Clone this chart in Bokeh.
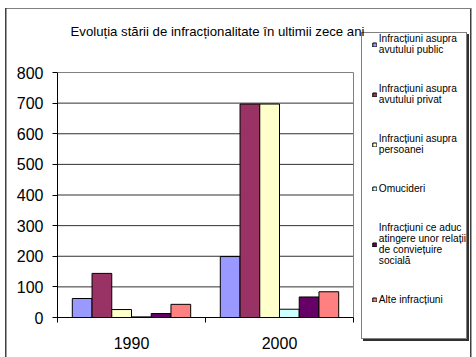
from bokeh.plotting import figure
from bokeh.models import FixedTicker, ColumnDataSource, Range1d, Legend, LegendItem, Label
from bokeh.embed import file_html
from bokeh.resources import INLINE

title_text = "Evoluția stării de infracționalitate în ultimii zece ani"
years = ["1990", "2000"]
series_names = [
    "Infracțiuni asupra\navutului public",
    "Infracțiuni asupra\navutului privat",
    "Infracțiuni asupra\npersoanei",
    "Omucideri",
    "Infracțiuni ce aduc\natingere unor relații\nde conviețuire\nsocială",
    "Alte infracțiuni",
]
public = [62, 199]
private = [144, 697]
persons = [26, 697]
omucideri = [2, 27]
social = [13, 67]
alte = [43, 84]
series_values = [public, private, persons, omucideri, social, alte]
colors = ["#9999FF", "#993366", "#FFFFCC", "#CCFFFF", "#660066", "#FF8080"]
y_ticks = list(range(0, 801, 100))

FONT = "Liberation Sans"
W, H = 476, 357
# canvas pixel layout
LEG_M = 10                              # legend margin from frame top/right
FL, FR, FT, FB = 57, 476, 23, 317       # frame edges
AREA_R, AREA_T = 353, 72                # plot-area right edge / top edge (value 800)
ymax = y_ticks[-1]
n = len(years)

bg = ", ".join([
    # outer chart border
    "linear-gradient(#404040,#404040) 5px 8px / 1.5px 400px no-repeat",
    "linear-gradient(#808080,#808080) 5px 8px / 466px 1px no-repeat",
    "linear-gradient(#404040,#404040) 470px 8px / 1.5px 400px no-repeat",
    # legend box outline + shadow
    "linear-gradient(#808080,#808080) 361px 32px / 1px 307px no-repeat",
    "linear-gradient(#808080,#808080) 466px 32px / 1px 307px no-repeat",
    "linear-gradient(#808080,#808080) 361px 32px / 106px 1px no-repeat",
    "linear-gradient(#808080,#808080) 361px 338px / 106px 1px no-repeat",
    "linear-gradient(#303030,#303030) 467px 34px / 2px 307px no-repeat",
    "linear-gradient(#303030,#303030) 363px 339px / 106px 2px no-repeat",
    "#ffffff",
])

p = figure(width=W, height=H, output_backend="svg", toolbar_location=None,
           x_range=Range1d(0, n * (FR - FL) / (AREA_R - FL)),
           y_range=Range1d(0, ymax * (FB - FT) / (FB - AREA_T)),
           min_border_left=FL, min_border_right=W - FR,
           min_border_top=FT, min_border_bottom=H - FB,
           styles={"background": bg})
p.outline_line_color = None
p.background_fill_alpha = 0
p.border_fill_alpha = 0
p.grid.visible = False

# gridlines and plot-area border (top and right)
grid_y = y_ticks[1:-1]
p.segment(x0=[0] * len(grid_y), y0=grid_y, x1=[n] * len(grid_y), y1=grid_y,
          line_color="#303030", line_width=1)
p.segment(x0=[0, n], y0=[ymax, 0], x1=[n, n], y1=[ymax, ymax],
          line_color="#808080", line_width=1)

bw = 1.0 / (len(series_values) + 1.5)
renderers = []
for i, (vals, col) in enumerate(zip(series_values, colors)):
    xs = [g + 0.5 + (i - (len(series_values) - 1) / 2) * bw for g in range(n)]
    src = ColumnDataSource(dict(x=xs, top=vals))
    r = p.vbar(x="x", top="top", bottom=0, width=bw, source=src,
               fill_color=col, line_color="black", line_width=1)
    renderers.append(r)

# axes
p.yaxis.ticker = FixedTicker(ticks=y_ticks)
p.yaxis.bounds = (0, ymax)
p.yaxis.major_tick_out = 5
p.yaxis.major_tick_in = 0
p.yaxis.minor_tick_line_color = None
p.yaxis.major_label_standoff = 9
p.yaxis.major_label_text_font = FONT
p.yaxis.major_label_text_font_size = "16px"
p.yaxis.major_label_text_color = "black"
p.yaxis.axis_line_color = "black"
p.yaxis.major_tick_line_color = "black"

centers = [g + 0.5 for g in range(n)]
p.xaxis.ticker = FixedTicker(ticks=centers, minor_ticks=list(range(n + 1)))
p.xaxis.bounds = (0, n)
p.xaxis.major_label_overrides = {c: y for c, y in zip(centers, years)}
p.xaxis.major_tick_out = 0
p.xaxis.major_tick_in = 0
p.xaxis.minor_tick_out = 5
p.xaxis.minor_tick_in = 0
p.xaxis.minor_tick_line_color = "black"
p.xaxis.major_label_standoff = 14
p.xaxis.major_label_text_font = FONT
p.xaxis.major_label_text_font_size = "16px"
p.xaxis.major_label_text_color = "black"
p.xaxis.axis_line_color = "black"

# legend (box outline drawn by the page background so it can reach below the frame)
legend = Legend(
    items=[LegendItem(label=nm, renderers=[r]) for nm, r in zip(series_names, renderers)],
    location="top_right",
    orientation="vertical",
    glyph_width=5, glyph_height=5,
    label_standoff=2,
    label_height=11,
    label_text_font=FONT,
    label_text_font_size="10.2px",
    label_text_color="black",
    padding=4,
    spacing=28,
    margin=LEG_M,
    border_line_color=None,
    background_fill_color="white",
    background_fill_alpha=1,
)
p.add_layout(legend)

# title
p.add_layout(Label(x=70 - FL, y=FB - 23, x_units="screen", y_units="screen",
                   text=title_text, text_align="left", text_baseline="top",
                   text_font=FONT, text_font_size="13.2px", text_color="black"))

open("out.html", "w").write(file_html(p, INLINE))
